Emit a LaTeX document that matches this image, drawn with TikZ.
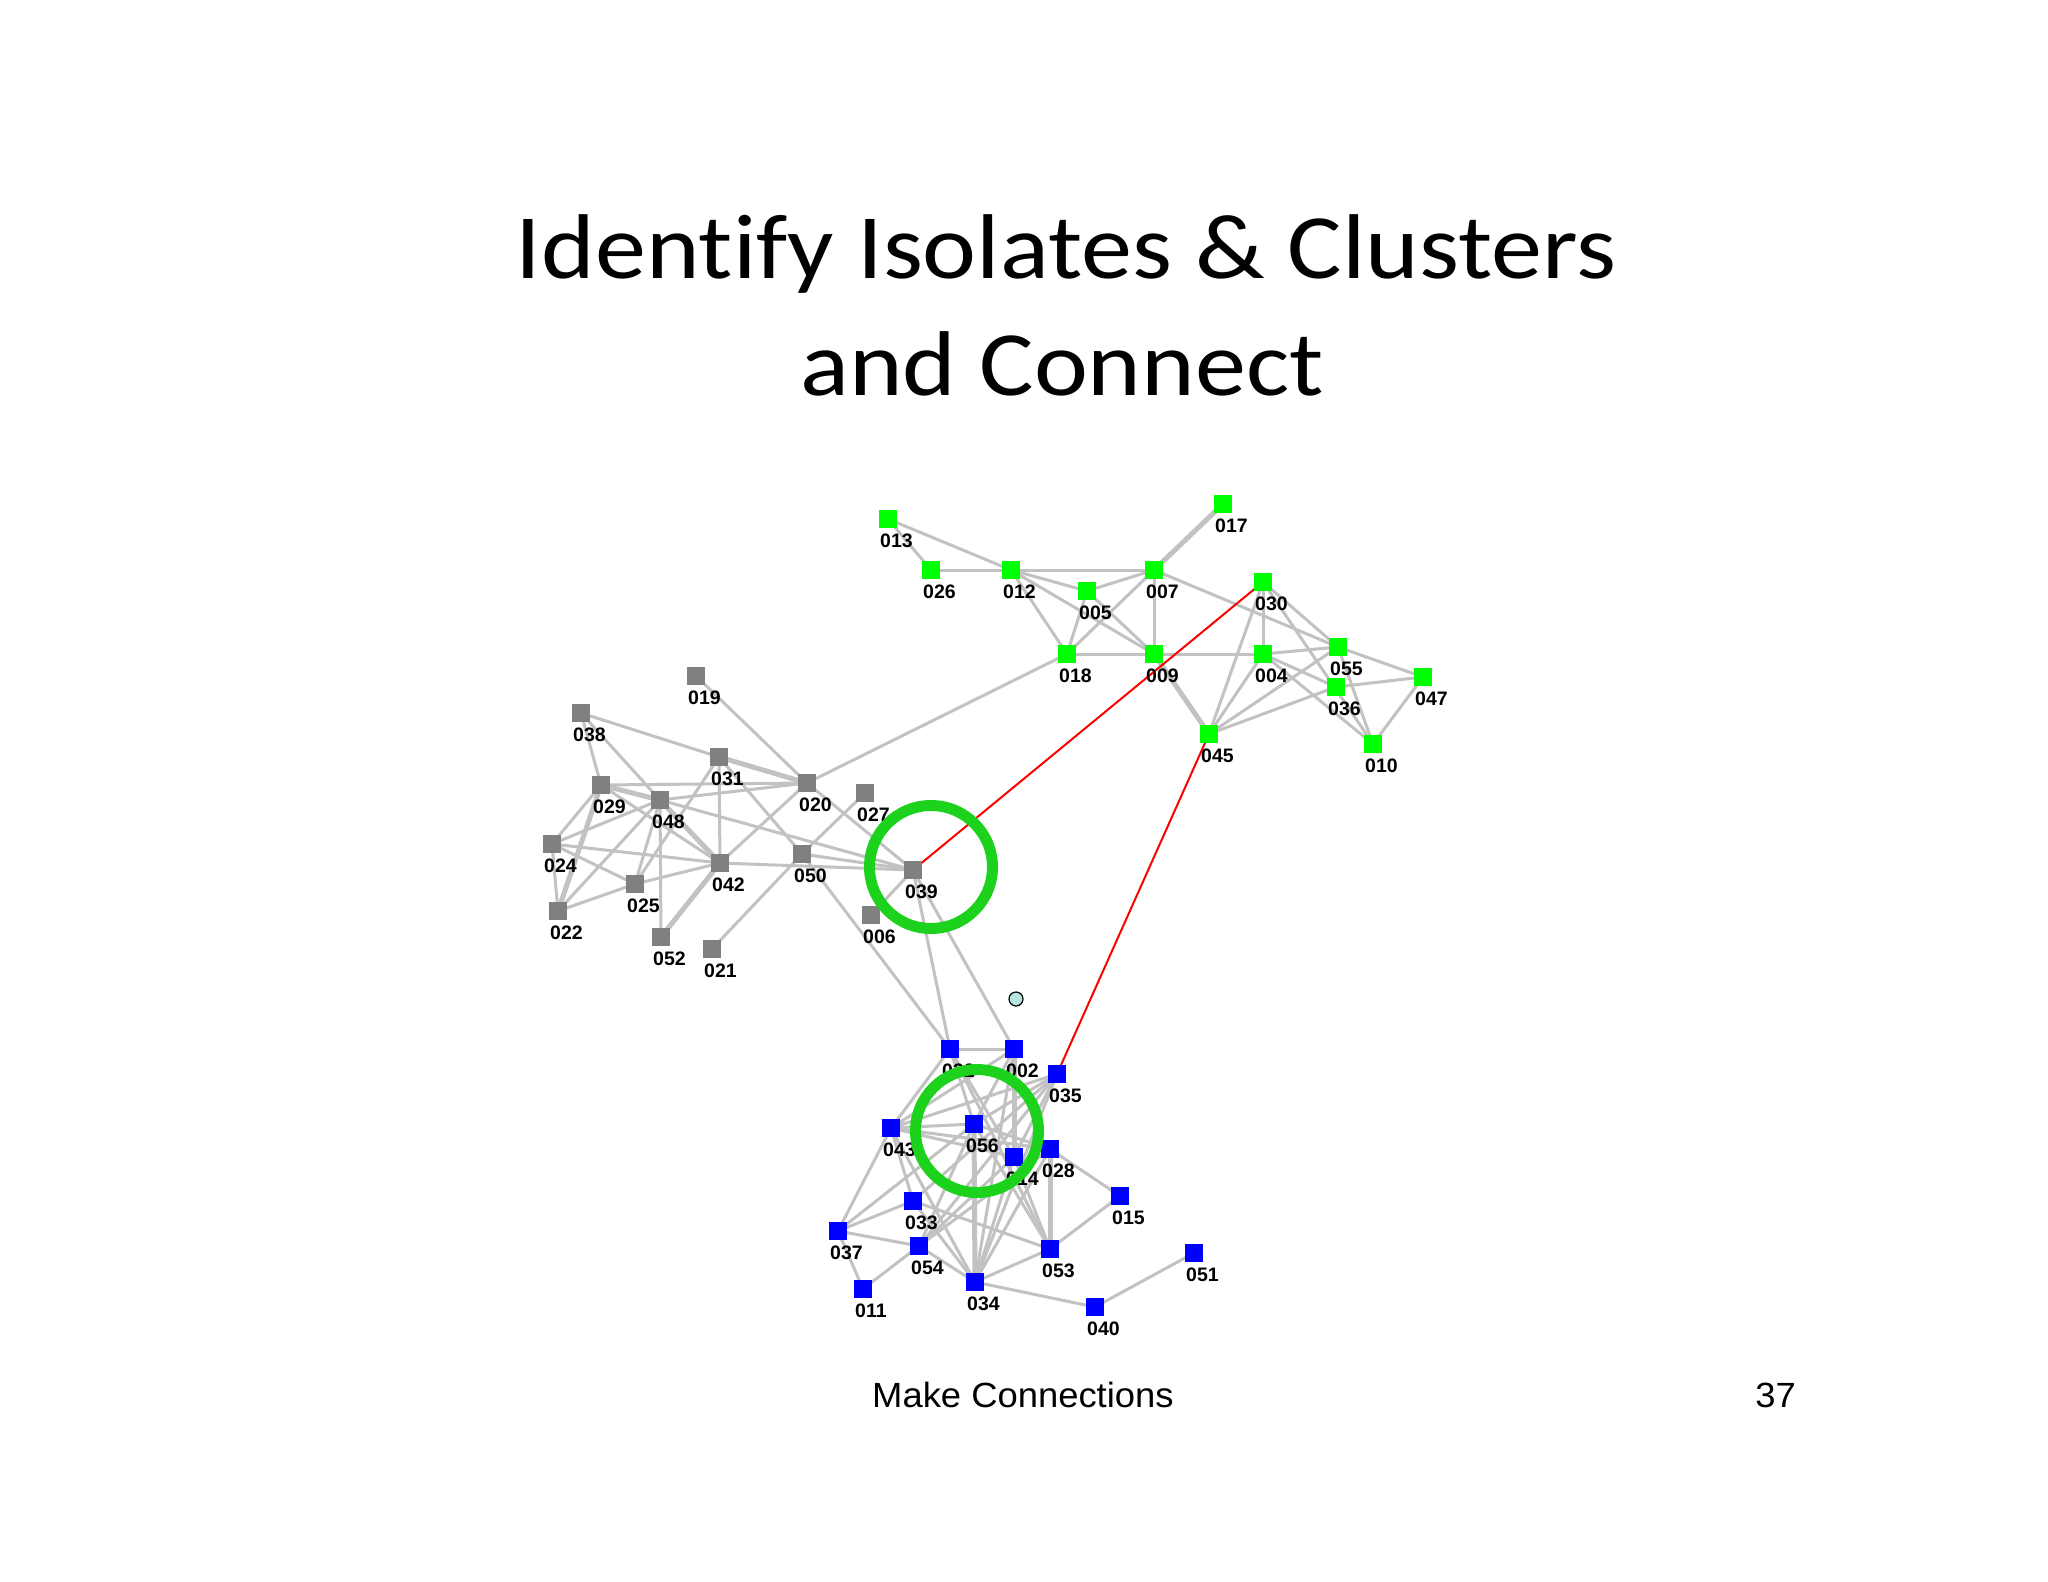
\documentclass[tikz,border=0pt]{standalone}
\usepackage{fontspec}
\usepackage{graphicx}
\setmainfont{Liberation Sans}
\newfontfamily\titlefont[Ligatures={NoCommon,NoRare,NoContextual}]{Carlito}
\definecolor{edgegray}{HTML}{C2C2C2}
\definecolor{gnode}{HTML}{00FF00}
\definecolor{ynode}{HTML}{808080}
\definecolor{bnode}{HTML}{0000FF}
\definecolor{ringgreen}{HTML}{1CD21C}
\definecolor{isocyan}{HTML}{B8E4DF}
\pgfdeclarelayer{bg}
\pgfdeclarelayer{fg}
\pgfsetlayers{bg,main,fg}
\tikzset{
  sq/.style={rectangle, minimum size=18pt, inner sep=0pt, draw=none},
  gr/.style={sq, fill=gnode},
  gy/.style={sq, fill=ynode},
  bl/.style={sq, fill=bnode},
  lab/.style={font=\bfseries\fontsize{19.5}{19.5}\selectfont, anchor=base west, inner sep=0pt},
  edge/.style={draw=edgegray, line width=3pt},
  tedge/.style={draw=edgegray, line width=5pt},
  redge/.style={draw=red, line width=2pt},
  ring/.style={circle, draw=ringgreen, line width=11pt, minimum size=123pt, inner sep=0pt},
}
\newcommand\nd[4]{\node[#4] (n#1) at (#2,#3) {};
  \node[lab] (l#1) at ([xshift=-8pt,yshift=-28pt]n#1.center) {#1};}
\newcommand\es[1]{\foreach \a/\b in {#1} {\draw[edge] (n\a.center) -- (n\b.center);}}
\newcommand\ets[1]{\foreach \a/\b in {#1} {\draw[tedge] (n\a.center) -- (n\b.center);}}
\begin{document}
\begin{tikzpicture}[x=1pt,y=-1pt]
\useasboundingbox (0,0) rectangle (2048,1582);
% title
\node[anchor=base, inner sep=0pt] (t1) at (1066,278) {\titlefont\fontsize{92}{92}\selectfont\scalebox{1.11}[1]{Identify Isolates \& Clusters}};
\node[anchor=base, inner sep=0pt] (t2) at (1062,395) {\titlefont\fontsize{92}{92}\selectfont\scalebox{1.11}[1]{and Connect}};
% footer
\node[anchor=base west, inner sep=0pt] (f1) at (872,1407) {\fontsize{35}{35}\selectfont\scalebox{1.04}[1]{Make Connections}};
\node[anchor=base east, inner sep=0pt] (f2) at (1796,1407) {\fontsize{35}{35}\selectfont\scalebox{1.04}[1]{37}};
% green nodes
\nd{013}{888}{519}{gr}
\nd{026}{931}{570}{gr}
\nd{012}{1011}{570}{gr}
\nd{005}{1087}{591}{gr}
\nd{007}{1154}{570}{gr}
\nd{017}{1223}{504}{gr}
\nd{018}{1067}{654}{gr}
\nd{009}{1154}{654}{gr}
\nd{045}{1209}{734}{gr}
\nd{030}{1263}{582}{gr}
\nd{004}{1263}{654}{gr}
\nd{055}{1338}{647}{gr}
\nd{036}{1336}{687}{gr}
\nd{047}{1423}{677}{gr}
\nd{010}{1373}{744}{gr}
% gray nodes
\nd{019}{696}{676}{gy}
\nd{038}{581}{713}{gy}
\nd{031}{719}{757}{gy}
\nd{020}{807}{783}{gy}
\nd{029}{601}{785}{gy}
\nd{048}{660}{800}{gy}
\nd{027}{865}{793}{gy}
\nd{024}{552}{844}{gy}
\nd{050}{802}{854}{gy}
\nd{042}{720}{863}{gy}
\nd{025}{635}{884}{gy}
\nd{022}{558}{911}{gy}
\nd{052}{661}{937}{gy}
\nd{021}{712}{949}{gy}
\nd{039}{913}{870}{gy}
\nd{006}{871}{915}{gy}
% blue nodes
\nd{032}{950}{1049}{bl}
\nd{002}{1014}{1049}{bl}
\nd{035}{1057}{1074}{bl}
\nd{043}{891}{1128}{bl}
\nd{056}{974}{1124}{bl}
\nd{014}{1014}{1157}{bl}
\nd{028}{1050}{1149}{bl}
\nd{033}{913}{1201}{bl}
\nd{015}{1120}{1196}{bl}
\nd{037}{838}{1231}{bl}
\nd{054}{919}{1246}{bl}
\nd{053}{1050}{1249}{bl}
\nd{051}{1194}{1253}{bl}
\nd{011}{863}{1289}{bl}
\nd{034}{975}{1282}{bl}
\nd{040}{1095}{1307}{bl}
% isolate
\node[circle, draw=black, fill=isocyan, line width=1.2pt, minimum size=14pt, inner sep=0pt] (iso) at (1016,999) {};
\begin{pgfonlayer}{bg}
% green edges
\es{013/026,013/012,026/012,012/007,012/005,012/018,012/009,005/018,005/007,005/009,007/018,007/009,018/009,009/004,004/055,007/055,018/020,045/030,045/004,045/055,045/036,030/004,030/055,030/010,004/036,004/010,055/047,055/010,036/047,047/010}
\ets{007/017,009/045}
% gray edges
\es{019/020,038/031,038/029,038/048,029/020,029/024,029/042,048/020,048/024,048/022,048/025,048/052,048/039,031/042,031/025,031/050,050/032,020/042,020/039,024/042,024/025,024/022,025/042,025/022,042/039,027/050,050/021,050/039,039/006,039/032,039/002}
\ets{031/020,029/048,029/022,048/042,042/052}
% blue edges
\es{032/002,032/043,032/056,032/014,032/053,002/056,002/043,002/034,035/043,035/056,035/014,035/054,035/033,035/034,043/056,043/014,043/028,043/033,043/037,043/034,056/028,056/053,056/054,056/037,014/053,014/034,014/054,028/015,028/034,028/054,033/037,033/053,033/034,037/054,037/011,054/011,054/034,034/053,034/040,053/015,040/051}
\ets{002/014,056/034,028/053}
% red bridges
\draw[redge] (n039.center) -- (n030.center);
\draw[redge] (n045.center) -- (n035.center);
\end{pgfonlayer}
\begin{pgfonlayer}{fg}
\node[ring] (ringA) at (931,867) {};
\node[ring] (ringB) at (977,1131) {};
\end{pgfonlayer}
\end{tikzpicture}
\end{document}
